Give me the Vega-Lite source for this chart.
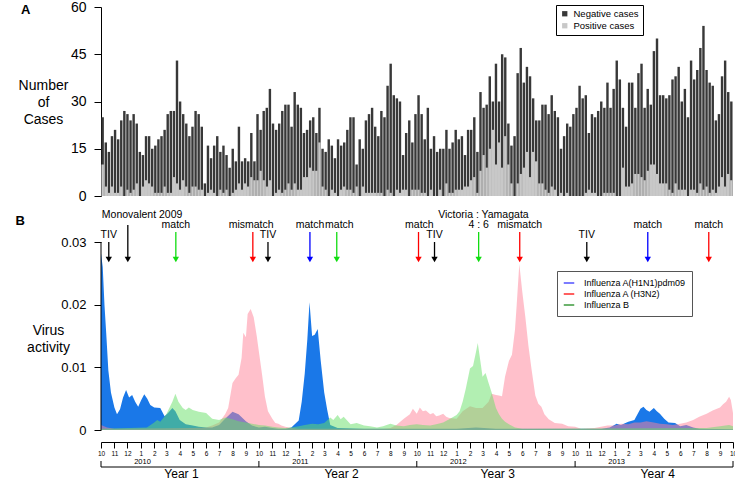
{
"$schema": "https://vega.github.io/schema/vega-lite/v6.json",
"padding": {"left": 15, "top": 0, "right": 5, "bottom": 0},
"spacing": 1,
"resolve": {"scale": {"color": "independent", "stroke": "independent"}, "legend": {"color": "independent", "stroke": "independent"}},
"config": {
 "font": "Liberation Sans",
 "view": {"stroke": null},
 "axis": {"domainColor": "#000", "tickColor": "#000", "labelColor": "#000", "titleColor": "#000", "titleFontWeight": "normal", "grid": false, "domainWidth": 1, "tickWidth": 1, "labelFont": "Liberation Sans", "titleFont": "Liberation Sans"},
 "legend": {"labelColor": "#000", "labelFont": "Liberation Sans"},
 "title": {"color": "#000", "font": "Liberation Sans"},
 "text": {"font": "Liberation Sans", "color": "#000"}
},
"datasets": {
 "bars": [
{"w":1,"total":25,"pos":10},{"w":2,"total":17,"pos":3},{"w":3,"total":14,"pos":1},{"w":4,"total":19,"pos":3},{"w":5,"total":21,"pos":1},{"w":6,"total":18,"pos":1},{"w":7,"total":24,"pos":3},{"w":8,"total":27,"pos":0},{"w":9,"total":26,"pos":2},{"w":10,"total":24,"pos":1},
{"w":11,"total":26,"pos":2},{"w":12,"total":23,"pos":4},{"w":13,"total":14,"pos":0},{"w":14,"total":13,"pos":3},{"w":15,"total":19,"pos":5},{"w":16,"total":19,"pos":4},{"w":17,"total":15,"pos":3},{"w":18,"total":16,"pos":1},{"w":19,"total":18,"pos":1},{"w":20,"total":19,"pos":1},
{"w":21,"total":21,"pos":3},{"w":22,"total":26,"pos":1},{"w":23,"total":27,"pos":1},{"w":24,"total":27,"pos":6},{"w":25,"total":43,"pos":4},{"w":26,"total":30,"pos":2},{"w":27,"total":26,"pos":5},{"w":28,"total":23,"pos":3},{"w":29,"total":19,"pos":1},{"w":30,"total":22,"pos":3},
{"w":31,"total":27,"pos":3},{"w":32,"total":26,"pos":2},{"w":33,"total":22,"pos":2},{"w":34,"total":4,"pos":0},{"w":35,"total":16,"pos":1},{"w":36,"total":12,"pos":2},{"w":37,"total":16,"pos":1},{"w":38,"total":19,"pos":0},{"w":39,"total":14,"pos":2},{"w":40,"total":16,"pos":1},
{"w":41,"total":13,"pos":2},{"w":42,"total":9,"pos":0},{"w":43,"total":15,"pos":1},{"w":44,"total":11,"pos":2},{"w":45,"total":22,"pos":4},{"w":46,"total":11,"pos":2},{"w":47,"total":12,"pos":4},{"w":48,"total":11,"pos":3},{"w":49,"total":20,"pos":6},{"w":50,"total":11,"pos":5},
{"w":51,"total":26,"pos":5},{"w":52,"total":21,"pos":8},{"w":53,"total":27,"pos":5},{"w":54,"total":28,"pos":3},{"w":55,"total":34,"pos":5},{"w":56,"total":23,"pos":0},{"w":57,"total":21,"pos":1},{"w":58,"total":23,"pos":2},{"w":59,"total":27,"pos":1},{"w":60,"total":29,"pos":2},
{"w":61,"total":29,"pos":4},{"w":62,"total":22,"pos":2},{"w":63,"total":33,"pos":4},{"w":64,"total":29,"pos":2},{"w":65,"total":28,"pos":2},{"w":66,"total":20,"pos":6},{"w":67,"total":21,"pos":6},{"w":68,"total":24,"pos":9},{"w":69,"total":25,"pos":8},{"w":70,"total":20,"pos":8},
{"w":71,"total":28,"pos":17},{"w":72,"total":15,"pos":3},{"w":73,"total":14,"pos":2},{"w":74,"total":18,"pos":0},{"w":75,"total":16,"pos":2},{"w":76,"total":12,"pos":1},{"w":77,"total":18,"pos":0},{"w":78,"total":16,"pos":2},{"w":79,"total":17,"pos":3},{"w":80,"total":21,"pos":2},
{"w":81,"total":25,"pos":2},{"w":82,"total":25,"pos":1},{"w":83,"total":10,"pos":3},{"w":84,"total":18,"pos":0},{"w":85,"total":15,"pos":3},{"w":86,"total":24,"pos":1},{"w":87,"total":26,"pos":1},{"w":88,"total":28,"pos":1},{"w":89,"total":22,"pos":1},{"w":90,"total":19,"pos":1},
{"w":91,"total":27,"pos":1},{"w":92,"total":25,"pos":0},{"w":93,"total":35,"pos":2},{"w":94,"total":42,"pos":1},{"w":95,"total":32,"pos":0},{"w":96,"total":31,"pos":2},{"w":97,"total":30,"pos":1},{"w":98,"total":13,"pos":2},{"w":99,"total":20,"pos":2},{"w":100,"total":24,"pos":0},
{"w":101,"total":17,"pos":2},{"w":102,"total":26,"pos":2},{"w":103,"total":32,"pos":2},{"w":104,"total":26,"pos":1},{"w":105,"total":18,"pos":1},{"w":106,"total":28,"pos":0},{"w":107,"total":15,"pos":2},{"w":108,"total":19,"pos":0},{"w":109,"total":14,"pos":0},{"w":110,"total":15,"pos":2},
{"w":111,"total":15,"pos":0},{"w":112,"total":21,"pos":4},{"w":113,"total":15,"pos":1},{"w":114,"total":17,"pos":1},{"w":115,"total":21,"pos":2},{"w":116,"total":18,"pos":2},{"w":117,"total":19,"pos":2},{"w":118,"total":13,"pos":3},{"w":119,"total":21,"pos":3},{"w":120,"total":21,"pos":5},
{"w":121,"total":25,"pos":6},{"w":122,"total":14,"pos":1},{"w":123,"total":33,"pos":8},{"w":124,"total":28,"pos":13},{"w":125,"total":29,"pos":9},{"w":126,"total":38,"pos":15},{"w":127,"total":30,"pos":21},{"w":128,"total":42,"pos":10},{"w":129,"total":30,"pos":17},{"w":130,"total":45,"pos":9},
{"w":131,"total":44,"pos":19},{"w":132,"total":23,"pos":10},{"w":133,"total":16,"pos":4},{"w":134,"total":19,"pos":0},{"w":135,"total":39,"pos":4},{"w":136,"total":47,"pos":7},{"w":137,"total":36,"pos":9},{"w":138,"total":41,"pos":14},{"w":139,"total":38,"pos":6},{"w":140,"total":31,"pos":14},
{"w":141,"total":24,"pos":11},{"w":142,"total":24,"pos":4},{"w":143,"total":29,"pos":4},{"w":144,"total":29,"pos":2},{"w":145,"total":26,"pos":1},{"w":146,"total":32,"pos":3},{"w":147,"total":27,"pos":2},{"w":148,"total":25,"pos":0},{"w":149,"total":15,"pos":1},{"w":150,"total":19,"pos":0},
{"w":151,"total":23,"pos":1},{"w":152,"total":22,"pos":0},{"w":153,"total":26,"pos":0},{"w":154,"total":28,"pos":0},{"w":155,"total":35,"pos":0},{"w":156,"total":31,"pos":0},{"w":157,"total":32,"pos":1},{"w":158,"total":20,"pos":2},{"w":159,"total":26,"pos":1},{"w":160,"total":25,"pos":1},
{"w":161,"total":27,"pos":0},{"w":162,"total":30,"pos":0},{"w":163,"total":28,"pos":1},{"w":164,"total":36,"pos":1},{"w":165,"total":28,"pos":1},{"w":166,"total":34,"pos":1},{"w":167,"total":43,"pos":0},{"w":168,"total":37,"pos":0},{"w":169,"total":28,"pos":9},{"w":170,"total":22,"pos":3},
{"w":171,"total":36,"pos":3},{"w":172,"total":36,"pos":4},{"w":173,"total":28,"pos":7},{"w":174,"total":39,"pos":7},{"w":175,"total":42,"pos":6},{"w":176,"total":28,"pos":5},{"w":177,"total":34,"pos":8},{"w":178,"total":29,"pos":10},{"w":179,"total":46,"pos":10},{"w":180,"total":50,"pos":7},
{"w":181,"total":32,"pos":4},{"w":182,"total":32,"pos":4},{"w":183,"total":31,"pos":4},{"w":184,"total":32,"pos":2},{"w":185,"total":37,"pos":1},{"w":186,"total":38,"pos":4},{"w":187,"total":41,"pos":2},{"w":188,"total":30,"pos":2},{"w":189,"total":34,"pos":2},{"w":190,"total":25,"pos":0},
{"w":191,"total":43,"pos":2},{"w":192,"total":37,"pos":2},{"w":193,"total":40,"pos":1},{"w":194,"total":47,"pos":4},{"w":195,"total":54,"pos":2},{"w":196,"total":40,"pos":3},{"w":197,"total":36,"pos":1},{"w":198,"total":35,"pos":2},{"w":199,"total":24,"pos":1},{"w":200,"total":26,"pos":3},
{"w":201,"total":38,"pos":6},{"w":202,"total":43,"pos":3},{"w":203,"total":33,"pos":7},{"w":204,"total":30,"pos":5}
 ],
 "h1": [
{"d":"2009-10-01","v":0.0282},{"d":"2009-10-05","v":0.026},{"d":"2009-10-09","v":0.02},{"d":"2009-10-13","v":0.0155},{"d":"2009-10-18","v":0.0095},{"d":"2009-10-24","v":0.006},{"d":"2009-11-01","v":0.0036},{"d":"2009-11-07","v":0.0025},{"d":"2009-11-14","v":0.0033},{"d":"2009-11-21","v":0.0052},{"d":"2009-11-28","v":0.0064},{"d":"2009-12-05","v":0.0052},{"d":"2009-12-12","v":0.0056},{"d":"2009-12-19","v":0.0045},{"d":"2009-12-26","v":0.0037},
{"d":"2010-01-02","v":0.0048},{"d":"2010-01-09","v":0.0057},{"d":"2010-01-16","v":0.005},{"d":"2010-01-23","v":0.004},{"d":"2010-02-01","v":0.0036},{"d":"2010-02-15","v":0.0035},{"d":"2010-02-25","v":0.0022},{"d":"2010-03-05","v":0.0027},{"d":"2010-03-15","v":0.0035},{"d":"2010-03-22","v":0.003},{"d":"2010-04-01","v":0.0016},{"d":"2010-04-15","v":0.0009},{"d":"2010-05-01","v":0.0007},{"d":"2010-05-15","v":0.0005},{"d":"2010-06-01","v":0.0004},{"d":"2010-06-15","v":0.0004},{"d":"2010-07-01","v":0.0008},{"d":"2010-07-15","v":0.0018},{"d":"2010-08-01","v":0.0029},{"d":"2010-08-15","v":0.0025},{"d":"2010-09-01","v":0.0014},{"d":"2010-09-15","v":0.0007},{"d":"2010-10-01","v":0.0004},{"d":"2010-10-15","v":0.0005},{"d":"2010-11-01","v":0.0003},{"d":"2010-11-15","v":0.0002},{"d":"2010-12-01","v":0.0002},{"d":"2010-12-15","v":0.0004},
{"d":"2011-01-01","v":0.0015},{"d":"2011-01-08","v":0.0045},{"d":"2011-01-15","v":0.009},{"d":"2011-01-21","v":0.0145},{"d":"2011-01-26","v":0.0204},{"d":"2011-02-01","v":0.015},{"d":"2011-02-07","v":0.0152},{"d":"2011-02-14","v":0.0161},{"d":"2011-02-21","v":0.011},{"d":"2011-03-01","v":0.006},{"d":"2011-03-08","v":0.0032},{"d":"2011-03-15","v":0.0008},{"d":"2011-04-01","v":0.0003},{"d":"2011-06-01","v":0.0002},{"d":"2011-09-01","v":0.0002},{"d":"2012-01-01","v":0.0002},{"d":"2012-02-15","v":0.0004},{"d":"2012-04-01","v":0.0002},{"d":"2012-12-01","v":0.0002},{"d":"2012-12-20","v":0.0004},
{"d":"2013-01-05","v":0.001},{"d":"2013-01-15","v":0.0008},{"d":"2013-02-01","v":0.0013},{"d":"2013-02-15","v":0.0016},{"d":"2013-03-01","v":0.0034},{"d":"2013-03-08","v":0.0037},{"d":"2013-03-15","v":0.0032},{"d":"2013-03-22","v":0.0029},{"d":"2013-04-01","v":0.0035},{"d":"2013-04-08","v":0.003},{"d":"2013-04-15","v":0.0026},{"d":"2013-04-25","v":0.0018},{"d":"2013-05-05","v":0.0012},{"d":"2013-05-20","v":0.0011},{"d":"2013-06-01","v":0.0006},{"d":"2013-06-15","v":0.0008},{"d":"2013-07-01","v":0.0004},{"d":"2013-07-15","v":0.0002},{"d":"2013-10-01","v":0.0001}
 ],
 "h3": [
{"d":"2009-10-01","v":0.0008},{"d":"2009-10-15","v":0.0004},{"d":"2009-11-01","v":0.0002},{"d":"2010-05-01","v":0.0003},{"d":"2010-06-01","v":0.0004},{"d":"2010-06-15","v":0.0007},{"d":"2010-07-01","v":0.0012},{"d":"2010-07-15","v":0.0025},{"d":"2010-07-22","v":0.0035},{"d":"2010-08-01","v":0.0075},{"d":"2010-08-08","v":0.0082},{"d":"2010-08-15","v":0.0088},{"d":"2010-08-22","v":0.0115},{"d":"2010-08-26","v":0.0155},{"d":"2010-09-01","v":0.0148},{"d":"2010-09-05","v":0.0185},{"d":"2010-09-12","v":0.0193},{"d":"2010-09-19","v":0.018},{"d":"2010-09-26","v":0.015},{"d":"2010-10-01","v":0.0125},{"d":"2010-10-08","v":0.009},{"d":"2010-10-15","v":0.0053},{"d":"2010-10-22","v":0.003},{"d":"2010-11-01","v":0.0018},{"d":"2010-11-08","v":0.0011},{"d":"2010-11-15","v":0.001},{"d":"2010-11-22","v":0.0007},{"d":"2010-12-01","v":0.0005},{"d":"2010-12-15","v":0.0003},
{"d":"2011-01-01","v":0.0002},{"d":"2011-07-15","v":0.0002},{"d":"2011-08-01","v":0.0003},{"d":"2011-08-15","v":0.0008},{"d":"2011-09-01","v":0.0018},{"d":"2011-09-15","v":0.0025},{"d":"2011-09-22","v":0.0034},{"d":"2011-10-01","v":0.0026},{"d":"2011-10-08","v":0.0036},{"d":"2011-10-15","v":0.003},{"d":"2011-10-22","v":0.0031},{"d":"2011-11-01","v":0.0025},{"d":"2011-11-08","v":0.0027},{"d":"2011-11-15","v":0.0022},{"d":"2011-11-22","v":0.0023},{"d":"2011-12-01","v":0.0026},{"d":"2011-12-08","v":0.0021},{"d":"2011-12-15","v":0.0019},
{"d":"2012-01-01","v":0.0018},{"d":"2012-01-15","v":0.003},{"d":"2012-02-01","v":0.0038},{"d":"2012-02-15","v":0.0035},{"d":"2012-03-01","v":0.0035},{"d":"2012-03-15","v":0.0045},{"d":"2012-03-22","v":0.0058},{"d":"2012-04-01","v":0.0056},{"d":"2012-04-08","v":0.0055},{"d":"2012-04-15","v":0.0054},{"d":"2012-04-22","v":0.0085},{"d":"2012-05-01","v":0.011},{"d":"2012-05-08","v":0.012},{"d":"2012-05-15","v":0.016},{"d":"2012-05-19","v":0.02},{"d":"2012-05-25","v":0.0265},{"d":"2012-06-01","v":0.022},{"d":"2012-06-08","v":0.018},{"d":"2012-06-15","v":0.0135},{"d":"2012-06-22","v":0.0098},{"d":"2012-07-01","v":0.0055},{"d":"2012-07-08","v":0.0042},{"d":"2012-07-15","v":0.0037},{"d":"2012-07-22","v":0.0025},{"d":"2012-08-01","v":0.0017},{"d":"2012-08-15","v":0.0011},{"d":"2012-09-01","v":0.001},{"d":"2012-09-15","v":0.0006},{"d":"2012-10-01","v":0.0005},{"d":"2012-10-15","v":0.0002},{"d":"2012-11-15","v":0.0003},{"d":"2012-12-15","v":0.0007},
{"d":"2013-01-01","v":0.0007},{"d":"2013-01-15","v":0.001},{"d":"2013-02-01","v":0.0009},{"d":"2013-02-15","v":0.0012},{"d":"2013-03-01","v":0.0012},{"d":"2013-03-15","v":0.0014},{"d":"2013-04-01","v":0.0012},{"d":"2013-04-15","v":0.001},{"d":"2013-05-01","v":0.0009},{"d":"2013-05-15","v":0.0008},{"d":"2013-06-01","v":0.001},{"d":"2013-06-15","v":0.0012},{"d":"2013-07-01","v":0.0016},{"d":"2013-07-15","v":0.0021},{"d":"2013-08-01","v":0.0026},{"d":"2013-08-15","v":0.0031},{"d":"2013-09-01","v":0.0036},{"d":"2013-09-08","v":0.0041},{"d":"2013-09-15","v":0.0045},{"d":"2013-09-22","v":0.0053},{"d":"2013-09-26","v":0.0048},{"d":"2013-10-01","v":0.0027}
 ],
 "fb": [
{"d":"2009-10-01","v":0.0002},{"d":"2010-01-15","v":0.0004},{"d":"2010-02-01","v":0.0012},{"d":"2010-02-08","v":0.0016},{"d":"2010-02-15","v":0.0013},{"d":"2010-03-01","v":0.0025},{"d":"2010-03-15","v":0.0045},{"d":"2010-03-22","v":0.0058},{"d":"2010-03-29","v":0.0045},{"d":"2010-04-08","v":0.0035},{"d":"2010-04-15","v":0.0032},{"d":"2010-04-22","v":0.0036},{"d":"2010-05-01","v":0.0032},{"d":"2010-05-15","v":0.0029},{"d":"2010-06-01","v":0.0027},{"d":"2010-06-15","v":0.0018},{"d":"2010-07-01","v":0.0016},{"d":"2010-07-15","v":0.002},{"d":"2010-08-01","v":0.0017},{"d":"2010-08-15","v":0.0014},{"d":"2010-09-01","v":0.0012},{"d":"2010-09-15","v":0.001},{"d":"2010-10-01","v":0.0008},{"d":"2010-10-15","v":0.0007},{"d":"2010-11-01","v":0.0005},{"d":"2010-11-15","v":0.0004},{"d":"2010-12-01","v":0.0003},{"d":"2010-12-15","v":0.0004},
{"d":"2011-01-01","v":0.0006},{"d":"2011-01-15","v":0.0008},{"d":"2011-02-01","v":0.001},{"d":"2011-02-15","v":0.0009},{"d":"2011-03-01","v":0.0011},{"d":"2011-03-15","v":0.002},{"d":"2011-03-22","v":0.0016},{"d":"2011-04-01","v":0.0024},{"d":"2011-04-08","v":0.0017},{"d":"2011-04-15","v":0.0021},{"d":"2011-05-01","v":0.0009},{"d":"2011-05-15","v":0.0011},{"d":"2011-06-01","v":0.0007},{"d":"2011-06-15","v":0.0006},{"d":"2011-07-01","v":0.0004},{"d":"2011-07-15","v":0.0006},{"d":"2011-08-01","v":0.001},{"d":"2011-08-15","v":0.0007},{"d":"2011-09-01","v":0.0006},{"d":"2011-09-15","v":0.0008},{"d":"2011-10-01","v":0.0009},{"d":"2011-10-15","v":0.0008},{"d":"2011-11-01","v":0.0007},{"d":"2011-11-15","v":0.0009},{"d":"2011-12-01","v":0.0012},{"d":"2011-12-15","v":0.0017},
{"d":"2012-01-01","v":0.0024},{"d":"2012-01-08","v":0.003},{"d":"2012-01-15","v":0.0045},{"d":"2012-01-22","v":0.0065},{"d":"2012-02-01","v":0.0098},{"d":"2012-02-08","v":0.0102},{"d":"2012-02-15","v":0.0125},{"d":"2012-02-19","v":0.0139},{"d":"2012-02-26","v":0.0105},{"d":"2012-03-01","v":0.0085},{"d":"2012-03-08","v":0.0091},{"d":"2012-03-15","v":0.0075},{"d":"2012-03-22","v":0.006},{"d":"2012-04-01","v":0.0035},{"d":"2012-04-08","v":0.0025},{"d":"2012-04-15","v":0.0018},{"d":"2012-04-22","v":0.0013},{"d":"2012-05-01","v":0.0009},{"d":"2012-05-15","v":0.0004},{"d":"2012-06-01","v":0.0002},{"d":"2013-08-01","v":0.0003},{"d":"2013-09-01","v":0.0006},{"d":"2013-09-22","v":0.0008},{"d":"2013-10-01","v":0.0006}
 ],
 "arrows": [
{"d":"2009-10-19","strain":"vaccine","level":"tiv"},
{"d":"2009-12-02","strain":"vaccine","level":"mono"},
{"d":"2010-03-23","strain":"B","level":"match"},
{"d":"2010-09-17","strain":"H3N2","level":"match"},
{"d":"2010-10-22","strain":"vaccine","level":"tiv"},
{"d":"2011-01-27","strain":"H1N1","level":"match"},
{"d":"2011-03-30","strain":"B","level":"match"},
{"d":"2011-10-05","strain":"H3N2","level":"match"},
{"d":"2011-11-11","strain":"vaccine","level":"tiv"},
{"d":"2012-02-21","strain":"B","level":"match"},
{"d":"2012-05-26","strain":"H3N2","level":"match"},
{"d":"2012-10-28","strain":"vaccine","level":"tiv"},
{"d":"2013-03-18","strain":"H1N1","level":"match"},
{"d":"2013-08-06","strain":"H3N2","level":"match"}
 ],
 "labels": [
{"d":"2009-10-19","text":"TIV","level":"low"},
{"d":"2010-01-04","text":"Monovalent 2009","level":"top"},
{"d":"2010-03-23","text":"match","level":"mid"},
{"d":"2010-09-13","text":"mismatch","level":"mid"},
{"d":"2010-10-22","text":"TIV","level":"low"},
{"d":"2011-01-27","text":"match","level":"mid"},
{"d":"2011-04-05","text":"match","level":"mid"},
{"d":"2011-10-07","text":"match","level":"mid"},
{"d":"2011-11-11","text":"TIV","level":"low"},
{"d":"2012-03-03","text":"Victoria : Yamagata","level":"top"},
{"d":"2012-02-21","text":"4 : 6","level":"mid"},
{"d":"2012-05-26","text":"mismatch","level":"mid"},
{"d":"2012-10-28","text":"TIV","level":"low"},
{"d":"2013-03-18","text":"match","level":"mid"},
{"d":"2013-08-06","text":"match","level":"mid"}
 ],
 "legendseries": [
{"s":"Influenza A(H1N1)pdm09","d":"2010-01-01","v":0},{"s":"Influenza A (H3N2)","d":"2010-01-01","v":0},{"s":"Influenza B","d":"2010-01-01","v":0}
 ],
 "span": [{"start":"2009-10-01","end":"2013-10-01"}],
 "octs": [{"d":"2009-10-01"},{"d":"2010-10-01"},{"d":"2011-10-01"},{"d":"2012-10-01"},{"d":"2013-10-01"}],
 "calyears": [{"d":"2010-01-05","label":"2010"},{"d":"2011-01-05","label":"2011"},{"d":"2012-01-05","label":"2012"},{"d":"2013-01-05","label":"2013"}],
 "seasons": [{"d":"2010-04-05","label":"Year 1"},{"d":"2011-04-10","label":"Year 2"},{"d":"2012-04-05","label":"Year 3"},{"d":"2013-04-10","label":"Year 4"}]
},
"vconcat": [
 {
  "width": 632, "height": 189,
  "title": {"text": "A", "anchor": "start", "frame": "bounds", "fontSize": 13, "fontWeight": "bold", "offset": -17, "dx": 3},
  "data": {"name": "bars"},
  "encoding": {"x": {"field": "w", "type": "ordinal", "axis": null, "scale": {"paddingInner": 0.22, "paddingOuter": 0.15}}},
  "layer": [
   {"mark": {"type": "bar"}, "encoding": {
     "y": {"field": "total", "type": "quantitative", "scale": {"domain": [0, 60], "nice": false},
           "axis": {"values": [0, 15, 30, 45, 60], "title": ["Number", "of", "Cases"], "titleAngle": 0, "titleAlign": "center", "titleBaseline": "middle", "titleX": -58, "titleY": 78, "titleFontSize": 14, "titleLineHeight": 17, "labelFontSize": 14, "tickSize": 7, "labelPadding": 8}},
     "color": {"datum": "Negative cases", "type": "nominal", "scale": {"domain": ["Negative cases", "Positive cases"], "range": ["#383838", "#c8c8c8"]},
               "legend": {"title": null, "orient": "none", "legendX": 455, "legendY": -2, "symbolType": "square", "symbolSize": 28, "labelFontSize": 9.5, "strokeColor": "#000", "fillColor": "#fff", "padding": 4, "rowPadding": 1, "symbolStrokeWidth": 0}}}},
   {"mark": {"type": "bar"}, "encoding": {
     "y": {"field": "pos", "type": "quantitative"},
     "color": {"datum": "Positive cases", "type": "nominal"}}}
  ]
 },
 {
  "width": 632, "height": 226,
  "title": {"text": "B", "anchor": "start", "frame": "bounds", "fontSize": 13, "fontWeight": "bold", "offset": -24, "dx": -11},
  "layer": [
   {"data": {"name": "h1"}, "mark": {"type": "area", "color": "#1a78e8", "opacity": 1},
    "encoding": {
     "x": {"field": "d", "type": "temporal",
           "scale": {"type": "utc", "domain": [{"year": 2009, "month": 10, "date": 1, "utc": true}, {"year": 2013, "month": 10, "date": 1, "utc": true}], "nice": false},
           "axis": {"title": null, "offset": 12, "tickCount": {"interval": "month", "step": 1}, "labelExpr": "utcmonth(datum.value) + 1", "labelFontSize": 6.5, "tickSize": 6, "labelPadding": 2, "labelOverlap": false, "labelFlush": false, "labelBound": false}},
     "y": {"field": "v", "type": "quantitative", "scale": {"domain": [0, 0.036064], "nice": false},
           "axis": {"values": [0, 0.01, 0.02, 0.03], "labelExpr": "datum.value == 0 ? '0' : format(datum.value, '.2f')", "domain": false, "tickSize": 7, "labelFontSize": 13, "labelPadding": 8, "title": ["Virus", "activity"], "titleAngle": 0, "titleAlign": "center", "titleBaseline": "middle", "titleX": -53, "titleY": 126, "titleFontSize": 14, "titleLineHeight": 17}}}},
   {"data": {"name": "h3"}, "mark": {"type": "area", "color": "#ff8297", "opacity": 0.5},
    "encoding": {"x": {"field": "d", "type": "temporal"}, "y": {"field": "v", "type": "quantitative"}}},
   {"data": {"name": "fb"}, "mark": {"type": "area", "color": "#66e066", "opacity": 0.5},
    "encoding": {"x": {"field": "d", "type": "temporal"}, "y": {"field": "v", "type": "quantitative"}}},
   {"data": {"name": "legendseries"}, "transform": [{"filter": "datum.s == 'none'"}], "mark": {"type": "line"},
    "encoding": {"x": {"field": "d", "type": "temporal"}, "y": {"field": "v", "type": "quantitative"},
     "stroke": {"field": "s", "type": "nominal", "scale": {"domain": ["Influenza A(H1N1)pdm09", "Influenza A (H3N2)", "Influenza B"], "range": ["#5050ff", "#ff2a2a", "#3d9a3d"]},
                "legend": {"title": null, "orient": "none", "legendX": 456, "legendY": 67, "symbolType": "stroke", "symbolSize": 110, "symbolStrokeWidth": 1.5, "labelFontSize": 9, "strokeColor": "#555", "fillColor": "#fff", "padding": 6, "rowPadding": 0, "labelOffset": 9}}}},
   {"data": {"name": "arrows"}, "transform": [{"filter": "datum.level == 'tiv'"}], "mark": {"type": "rule", "strokeWidth": 1.3},
    "encoding": {"x": {"field": "d", "type": "temporal"}, "y": {"datum": 0.03}, "y2": {"datum": 0.0274},
     "color": {"field": "strain", "type": "nominal", "scale": {"domain": ["vaccine", "H1N1", "H3N2", "B"], "range": ["#000000", "#0000ff", "#ff0000", "#11dd11"]}, "legend": null}}},
   {"data": {"name": "arrows"}, "transform": [{"filter": "datum.level == 'match'"}], "mark": {"type": "rule", "strokeWidth": 1.3},
    "encoding": {"x": {"field": "d", "type": "temporal"}, "y": {"datum": 0.0316}, "y2": {"datum": 0.0274},
     "color": {"field": "strain", "type": "nominal", "legend": null}}},
   {"data": {"name": "arrows"}, "transform": [{"filter": "datum.level == 'mono'"}], "mark": {"type": "rule", "strokeWidth": 1.3},
    "encoding": {"x": {"field": "d", "type": "temporal"}, "y": {"datum": 0.0327}, "y2": {"datum": 0.0274},
     "color": {"field": "strain", "type": "nominal", "legend": null}}},
   {"data": {"name": "arrows"}, "mark": {"type": "point", "shape": "triangle-down", "filled": true, "size": 40, "opacity": 1},
    "encoding": {"x": {"field": "d", "type": "temporal"}, "y": {"datum": 0.0272},
     "color": {"field": "strain", "type": "nominal", "legend": null}}},
   {"data": {"name": "labels"}, "transform": [{"filter": "datum.level == 'top'"}], "mark": {"type": "text", "fontSize": 10.5, "align": "center", "baseline": "middle"},
    "encoding": {"x": {"field": "d", "type": "temporal"}, "y": {"datum": 0.0343}, "text": {"field": "text"}}},
   {"data": {"name": "labels"}, "transform": [{"filter": "datum.level == 'mid'"}], "mark": {"type": "text", "fontSize": 10.5, "align": "center", "baseline": "middle"},
    "encoding": {"x": {"field": "d", "type": "temporal"}, "y": {"datum": 0.0327}, "text": {"field": "text"}}},
   {"data": {"name": "labels"}, "transform": [{"filter": "datum.level == 'low'"}], "mark": {"type": "text", "fontSize": 10.5, "align": "center", "baseline": "middle"},
    "encoding": {"x": {"field": "d", "type": "temporal"}, "y": {"datum": 0.0311}, "text": {"field": "text"}}},
   {"data": {"values": [{"a": 1}]}, "mark": {"type": "rule", "color": "#000", "strokeWidth": 1},
    "encoding": {"x": {"datum": {"year": 2009, "month": 10, "date": 1, "utc": true}, "type": "temporal"}, "y": {"datum": 0}, "y2": {"datum": 0.03}}}
  ]
 },
 {
  "width": 632, "height": 20,
  "layer": [
   {"data": {"name": "span"}, "mark": {"type": "rule", "color": "#000"},
    "encoding": {"x": {"field": "start", "type": "temporal", "axis": null,
                       "scale": {"type": "utc", "domain": [{"year": 2009, "month": 10, "date": 1, "utc": true}, {"year": 2013, "month": 10, "date": 1, "utc": true}], "nice": false}},
                 "x2": {"field": "end"},
                 "y": {"datum": 0.6, "type": "quantitative", "scale": {"domain": [0, 1]}, "axis": null}}},
   {"data": {"name": "octs"}, "mark": {"type": "rule", "color": "#000"},
    "encoding": {"x": {"field": "d", "type": "temporal"}, "y": {"datum": 0.6}, "y2": {"datum": 0.9}}},
   {"data": {"name": "calyears"}, "mark": {"type": "text", "fontSize": 7.5, "baseline": "bottom"},
    "encoding": {"x": {"field": "d", "type": "temporal"}, "y": {"datum": 0.63}, "text": {"field": "label"}}},
   {"data": {"name": "seasons"}, "mark": {"type": "text", "fontSize": 12, "baseline": "middle"},
    "encoding": {"x": {"field": "d", "type": "temporal"}, "y": {"datum": 0.26}, "text": {"field": "label"}}}
  ]
 }
]
}
